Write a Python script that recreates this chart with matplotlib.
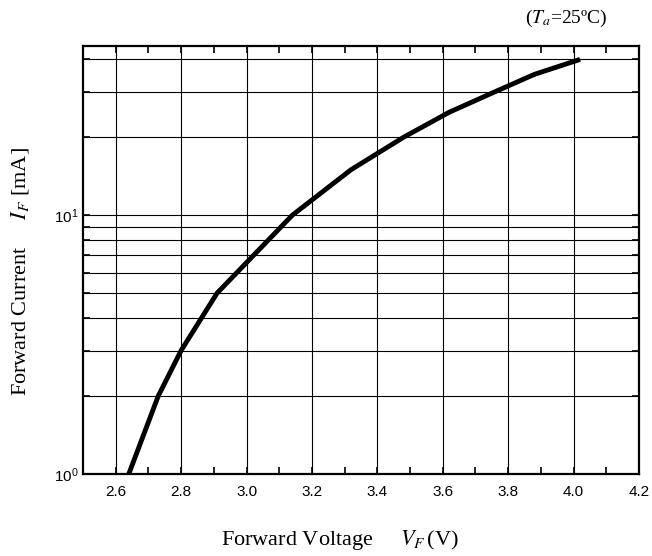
import matplotlib
matplotlib.use("Agg")
import matplotlib.pyplot as plt
from matplotlib.ticker import LogLocator, MultipleLocator, NullFormatter, FixedLocator

# forward voltage vs forward current (Ta = 25 C)
vf = [2.64, 2.73, 2.80, 2.91, 3.14, 3.32, 3.48, 3.62, 3.76, 3.88, 4.02]
i_f = [1, 2, 3, 5, 10, 15, 20, 25, 30, 35, 40]

x_ticks = [2.6, 2.8, 3.0, 3.2, 3.4, 3.6, 3.8, 4.0, 4.2]
x_tick_labels = ["2.6", "2.8", "3.0", "3.2", "3.4", "3.6", "3.8", "4.0", "4.2"]
y_grid = [2, 3, 4, 5, 6, 7, 8, 9, 20, 30, 40]

plt.rcParams["mathtext.fontset"] = "stix"

fig = plt.figure(figsize=(6.52, 5.56), dpi=100)
ax = fig.add_axes([0.1273, 0.1475, 0.8527, 0.7695])

ax.set_yscale("log")
ax.set_xlim(2.5, 4.2)
ax.set_ylim(1, 45)

# grid
for x in x_ticks[:-1]:
    ax.axvline(x, color="black", lw=0.8, zorder=1)
for y in y_grid + [10]:
    ax.axhline(y, color="black", lw=0.8, zorder=1)

ax.plot(vf, i_f, color="black", lw=3.5, solid_capstyle="butt", zorder=3)

ax.xaxis.set_major_locator(FixedLocator(x_ticks))
ax.set_xticklabels(x_tick_labels)
ax.xaxis.set_minor_locator(MultipleLocator(0.1))
ax.yaxis.set_major_locator(LogLocator(base=10))
ax.yaxis.set_minor_locator(FixedLocator(y_grid))
ax.yaxis.set_minor_formatter(NullFormatter())

ax.tick_params(which="both", direction="in", top=True, right=True,
               labelsize=11, width=1.2)
ax.tick_params(which="major", length=5)
ax.tick_params(which="minor", length=5)
for lab in ax.get_xticklabels() + ax.get_yticklabels():
    lab.set_family("Liberation Sans")
ax.tick_params(axis="x", pad=8)

for s in ax.spines.values():
    s.set_linewidth(1.6)

fig.text(0.522, 0.029, "Forward Voltage     $V_F\\,$(V)", family="Liberation Serif",
         fontsize=16, ha="center", va="center")
fig.text(0.031, 0.511, "Forward Current     $I_F$ [mA]", family="Liberation Serif",
         fontsize=16, ha="center", va="center", rotation=90)
fig.text(0.868, 0.966, "($T_a$=25ºC)", family="Liberation Serif",
         fontsize=14, ha="center", va="center")

fig.savefig("out.png", dpi=100)
